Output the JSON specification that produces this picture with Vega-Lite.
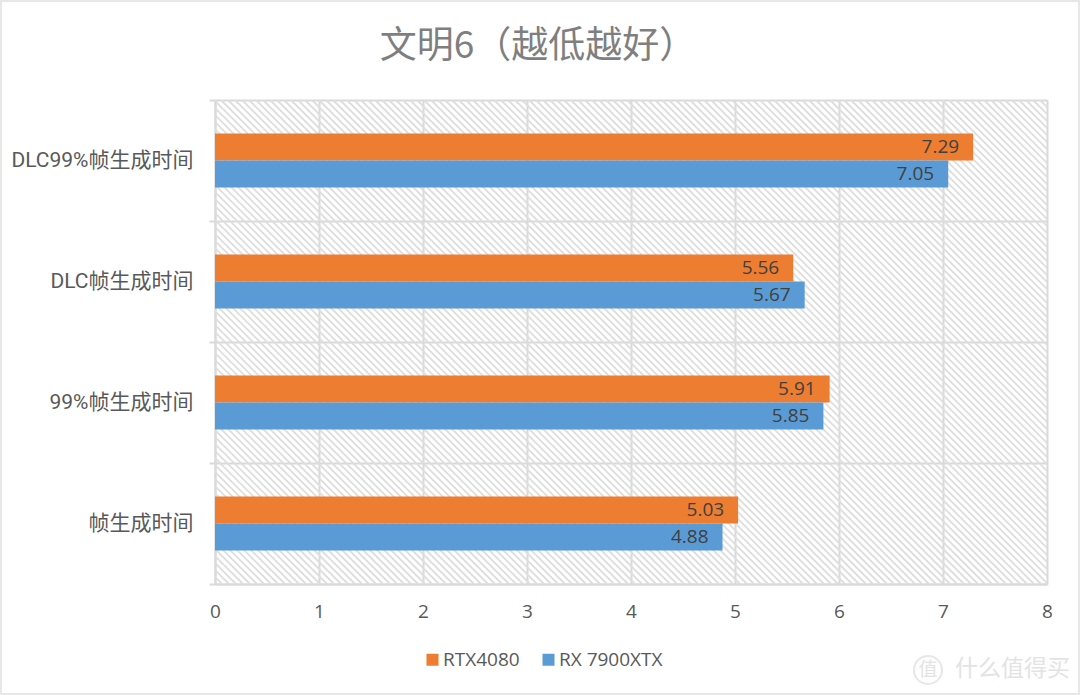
{"$schema":"https://vega.github.io/schema/vega-lite/v6.json","width":832,"height":484,"autosize":{"type":"none"},"padding":{"left":215,"top":100,"right":33,"bottom":111},"background":"white","view":{"stroke":null},"title":{"text":"文明6（越低越好）","font":"Noto Sans CJK SC","fontSize":37,"fontWeight":"normal","color":"#7f7f7f","anchor":"middle","dx":-93,"offset":-69},"datasets":{"bars":[{"metric":"DLC99%帧生成时间","card":"RTX4080","value":7.29},{"metric":"DLC99%帧生成时间","card":"RX 7900XTX","value":7.05},{"metric":"DLC帧生成时间","card":"RTX4080","value":5.56},{"metric":"DLC帧生成时间","card":"RX 7900XTX","value":5.67},{"metric":"99%帧生成时间","card":"RTX4080","value":5.91},{"metric":"99%帧生成时间","card":"RX 7900XTX","value":5.85},{"metric":"帧生成时间","card":"RTX4080","value":5.03},{"metric":"帧生成时间","card":"RX 7900XTX","value":4.88}]},"layer":[{"data":{"values":[{"frame":"hatch"}]},"mark":{"type":"point","clip":true,"filled":false,"stroke":"#dedede","strokeWidth":1.9,"opacity":1,"size":4,"shape":"M-484 -242l484 484m-477 -484l484 484m-477 -484l484 484m-477 -484l484 484m-477 -484l484 484m-477 -484l484 484m-477 -484l484 484m-477 -484l484 484m-477 -484l484 484m-477 -484l484 484m-477 -484l484 484m-477 -484l484 484m-477 -484l484 484m-477 -484l484 484m-477 -484l484 484m-477 -484l484 484m-477 -484l484 484m-477 -484l484 484m-477 -484l484 484m-477 -484l484 484m-477 -484l484 484m-477 -484l484 484m-477 -484l484 484m-477 -484l484 484m-477 -484l484 484m-477 -484l484 484m-477 -484l484 484m-477 -484l484 484m-477 -484l484 484m-477 -484l484 484m-477 -484l484 484m-477 -484l484 484m-477 -484l484 484m-477 -484l484 484m-477 -484l484 484m-477 -484l484 484m-477 -484l484 484m-477 -484l484 484m-477 -484l484 484m-477 -484l484 484m-477 -484l484 484m-477 -484l484 484m-477 -484l484 484m-477 -484l484 484m-477 -484l484 484m-477 -484l484 484m-477 -484l484 484m-477 -484l484 484m-477 -484l484 484m-477 -484l484 484m-477 -484l484 484m-477 -484l484 484m-477 -484l484 484m-477 -484l484 484m-477 -484l484 484m-477 -484l484 484m-477 -484l484 484m-477 -484l484 484m-477 -484l484 484m-477 -484l484 484m-477 -484l484 484m-477 -484l484 484m-477 -484l484 484m-477 -484l484 484m-477 -484l484 484m-477 -484l484 484m-477 -484l484 484m-477 -484l484 484m-477 -484l484 484m-477 -484l484 484m-477 -484l484 484m-477 -484l484 484m-477 -484l484 484m-477 -484l484 484m-477 -484l484 484m-477 -484l484 484m-477 -484l484 484m-477 -484l484 484m-477 -484l484 484m-477 -484l484 484m-477 -484l484 484m-477 -484l484 484m-477 -484l484 484m-477 -484l484 484m-477 -484l484 484m-477 -484l484 484m-477 -484l484 484m-477 -484l484 484m-477 -484l484 484m-477 -484l484 484m-477 -484l484 484m-477 -484l484 484m-477 -484l484 484m-477 -484l484 484m-477 -484l484 484m-477 -484l484 484m-477 -484l484 484m-477 -484l484 484m-477 -484l484 484m-477 -484l484 484m-477 -484l484 484m-477 -484l484 484m-477 -484l484 484m-477 -484l484 484m-477 -484l484 484m-477 -484l484 484m-477 -484l484 484m-477 -484l484 484m-477 -484l484 484m-477 -484l484 484m-477 -484l484 484m-477 -484l484 484m-477 -484l484 484m-477 -484l484 484m-477 -484l484 484m-477 -484l484 484m-477 -484l484 484m-477 -484l484 484m-477 -484l484 484m-477 -484l484 484m-477 -484l484 484m-477 -484l484 484m-477 -484l484 484m-477 -484l484 484m-477 -484l484 484m-477 -484l484 484m-477 -484l484 484m-477 -484l484 484m-477 -484l484 484m-477 -484l484 484m-477 -484l484 484m-477 -484l484 484m-477 -484l484 484m-477 -484l484 484m-477 -484l484 484m-477 -484l484 484m-477 -484l484 484m-477 -484l484 484m-477 -484l484 484m-477 -484l484 484m-477 -484l484 484m-477 -484l484 484m-477 -484l484 484m-477 -484l484 484m-477 -484l484 484m-477 -484l484 484m-477 -484l484 484m-477 -484l484 484m-477 -484l484 484m-477 -484l484 484m-477 -484l484 484m-477 -484l484 484m-477 -484l484 484m-477 -484l484 484m-477 -484l484 484m-477 -484l484 484m-477 -484l484 484m-477 -484l484 484m-477 -484l484 484m-477 -484l484 484m-477 -484l484 484m-477 -484l484 484m-477 -484l484 484m-477 -484l484 484m-477 -484l484 484m-477 -484l484 484m-477 -484l484 484m-477 -484l484 484m-477 -484l484 484m-477 -484l484 484m-477 -484l484 484m-477 -484l484 484m-477 -484l484 484m-477 -484l484 484m-477 -484l484 484m-477 -484l484 484m-477 -484l484 484m-477 -484l484 484m-477 -484l484 484m-477 -484l484 484m-477 -484l484 484m-477 -484l484 484m-477 -484l484 484m-477 -484l484 484m-477 -484l484 484m-477 -484l484 484m-477 -484l484 484m-477 -484l484 484m-477 -484l484 484m-477 -484l484 484m-477 -484l484 484m-477 -484l484 484m-477 -484l484 484m-477 -484l484 484m-477 -484l484 484m-477 -484l484 484m-477 -484l484 484m-477 -484l484 484m-477 -484l484 484m-477 -484l484 484m-477 -484l484 484m-477 -484l484 484m-477 -484l484 484m-477 -484l484 484m-477 -484l484 484m-477 -484l484 484m-477 -484l484 484m-477 -484l484 484m-477 -484l484 484m-477 -484l484 484m-477 -484l484 484m-477 -484l484 484m-477 -484l484 484m-477 -484l484 484m-477 -484l484 484m-477 -484l484 484m-477 -484l484 484m-477 -484l484 484m-477 -484l484 484m-477 -484l484 484m-477 -484l484 484m-477 -484l484 484m-477 -484l484 484m-477 -484l484 484"},"encoding":{"x":{"datum":0,"type":"quantitative","scale":{"domain":[0,8]},"axis":{"values":[0,1,2,3,4,5,6,7,8],"format":"d","title":null,"grid":true,"gridColor":"#d9d9d9","gridWidth":2,"domainColor":"#d9d9d9","domainWidth":2,"ticks":false,"labelFont":"Open Sans","labelFontSize":19,"labelColor":"#595959","labelPadding":18,"labelFlush":false}}}},{"data":{"name":"bars"},"mark":{"type":"bar"},"encoding":{"x":{"field":"value","type":"quantitative"},"y":{"field":"metric","type":"nominal","sort":["DLC99%帧生成时间","DLC帧生成时间","99%帧生成时间","帧生成时间"],"scale":{"paddingInner":0,"paddingOuter":0},"axis":{"title":null,"tickBand":"extent","grid":true,"gridColor":"#d9d9d9","gridWidth":2,"domainColor":"#d9d9d9","domainWidth":2,"tickColor":"#d9d9d9","tickWidth":2,"tickSize":6,"labelFont":"Roboto, Noto Sans CJK SC","labelFontSize":21,"labelLimit":300,"labelColor":"#595959","labelPadding":16}},"yOffset":{"field":"card","type":"nominal","scale":{"domain":["上","RTX4080","RX 7900XTX","下"],"paddingInner":0,"paddingOuter":0.24}},"color":{"field":"card","type":"nominal","scale":{"domain":["RTX4080","RX 7900XTX"],"range":["#ed7d31","#5b9bd5"]},"legend":{"title":null,"orient":"none","direction":"horizontal","legendX":208,"legendY":550,"symbolType":"square","symbolSize":144,"symbolStrokeWidth":0,"labelFont":"Open Sans","labelFontSize":19,"labelColor":"#595959","columnPadding":19,"labelOffset":1}}}},{"data":{"name":"bars"},"mark":{"type":"text","align":"right","baseline":"middle","dx":-14,"font":"Open Sans","fontSize":19,"color":"#404040"},"encoding":{"x":{"field":"value","type":"quantitative"},"y":{"field":"metric","type":"nominal","sort":["DLC99%帧生成时间","DLC帧生成时间","99%帧生成时间","帧生成时间"]},"yOffset":{"field":"card","type":"nominal","scale":{"domain":["上","RTX4080","RX 7900XTX","下"],"paddingInner":0,"paddingOuter":0.24}},"text":{"field":"value","type":"quantitative","format":".2f"}}},{"data":{"values":[{"mark":"什么值得买"}]},"mark":{"type":"text","align":"right","baseline":"middle","font":"Noto Sans CJK SC","fontSize":23,"color":"#e3e3e3","dx":23,"dy":327},"encoding":{"x":{"datum":8,"type":"quantitative"},"text":{"field":"mark"}}},{"data":{"values":[{"mark":"值"}]},"mark":{"type":"text","align":"center","baseline":"middle","font":"Noto Sans CJK SC","fontSize":19,"color":"#e3e3e3","dy":328},"encoding":{"x":{"datum":6.856,"type":"quantitative"},"text":{"field":"mark"}}},{"data":{"values":[{"frame":"outer"}]},"mark":{"type":"point","filled":false,"stroke":"#dedede","strokeWidth":2,"size":4,"shape":"M-214 -341H864V352H-214ZM727 328A14 14 0 1 1 699 328A14 14 0 1 1 727 328"},"encoding":{"x":{"datum":0,"type":"quantitative"}}}]}
